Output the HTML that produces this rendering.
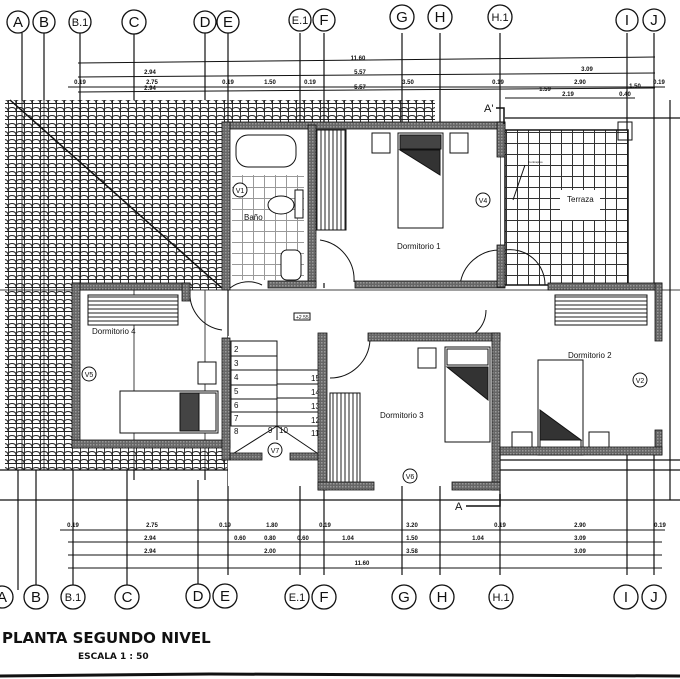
<!DOCTYPE html>
<html><head><meta charset="utf-8"><style>
html,body{margin:0;padding:0;background:#fff}
svg{display:block}
text{font-family:"Liberation Sans",sans-serif;fill:#111}
.c{font-family:"Liberation Serif",serif;font-size:15px;text-anchor:middle}
.d{font-family:"Liberation Serif",serif;font-size:6px;font-weight:bold;text-anchor:middle}
</style></head><body>
<svg width="680" height="679" viewBox="0 0 680 679" xmlns="http://www.w3.org/2000/svg">
<defs>
<pattern id="tile" width="8" height="8" patternUnits="userSpaceOnUse">
<rect width="8" height="8" fill="#fff"/>
<path d="M0.5 0V8M0 7Q0 3.5 4 3.5Q8 3.5 8 7M0 7.5H8" stroke="#222" stroke-width="0.9" fill="none"/>
</pattern>
<pattern id="wall" width="3" height="3" patternUnits="userSpaceOnUse">
<rect width="3" height="3" fill="#666"/><rect width="1.5" height="1.5" fill="#999"/>
</pattern>
<pattern id="grid" width="11" height="11" patternUnits="userSpaceOnUse">
<rect width="11" height="11" fill="#fff"/><path d="M0 0.5H11M0.5 0V11" stroke="#333" stroke-width="1"/>
</pattern>
<pattern id="vl" width="4" height="4" patternUnits="userSpaceOnUse">
<rect width="4" height="4" fill="#fff"/><path d="M1 0V4" stroke="#222" stroke-width="1"/>
</pattern>
<pattern id="hl" width="4" height="4" patternUnits="userSpaceOnUse">
<rect width="4" height="4" fill="#fff"/><path d="M0 1H4" stroke="#222" stroke-width="1"/>
</pattern>
</defs>

<!-- roof -->
<path d="M10 100H435V125H230V290H78V470H5V100Z" fill="url(#tile)"/>
<rect x="72" y="448" width="155" height="22" fill="url(#tile)"/>
<line x1="10" y1="100" x2="222" y2="288" stroke="#111" stroke-width="1.5"/>

<!-- grid lines -->
<g stroke="#111" stroke-width="1.2" fill="none">
<path d="M22 33V100M44 33V100M80 33V100M134 33V100M205 33V100M228 33V575M300 33V575M324 33V575M402 33V575M440 33V575M500 33V575M627 33V575M654 33V575"/>
<path d="M18 470V590M36 470V585M73 470V585M127 470V585M198 480V585M134 470V480M205 470V480"/>
<path d="M0 470H680M0 500H680M505 118H680M500 460H680"/>
<path d="M670 100V500"/>
</g>

<!-- dimension lines top -->
<g stroke="#111" stroke-width="1">
<line x1="78" y1="63" x2="655" y2="57"/>
<line x1="78" y1="77" x2="655" y2="73"/>
<line x1="78" y1="92" x2="655" y2="88"/>
<line x1="68" y1="87" x2="665" y2="87"/>
<line x1="505" y1="98" x2="635" y2="98"/>
</g>
<g class="d">
<text x="358" y="60">11.60</text><text x="150" y="74">2.94</text><text x="360" y="74">5.57</text><text x="587" y="71">3.09</text>
<text x="150" y="90">2.94</text><text x="360" y="89">5.57</text><text x="545" y="91">1.59</text><text x="635" y="88">1.50</text>
<text x="80" y="84">0.19</text><text x="152" y="84">2.75</text><text x="228" y="84">0.19</text><text x="270" y="84">1.50</text><text x="310" y="84">0.19</text><text x="408" y="84">3.50</text><text x="498" y="84">0.19</text><text x="580" y="84">2.90</text><text x="659" y="84">0.19</text>
<text x="568" y="96">2.19</text><text x="625" y="96">0.40</text>
</g>

<!-- top circles -->
<g fill="#fff" stroke="#111" stroke-width="1.3">
<circle cx="18" cy="22" r="11"/><circle cx="44" cy="22" r="11"/><circle cx="80" cy="22" r="11"/><circle cx="134" cy="22" r="12"/>
<circle cx="205" cy="22" r="11"/><circle cx="228" cy="22" r="11"/><circle cx="300" cy="20" r="11"/><circle cx="324" cy="20" r="11"/>
<circle cx="402" cy="17" r="12"/><circle cx="440" cy="17" r="12"/><circle cx="500" cy="17" r="12"/><circle cx="627" cy="20" r="11"/><circle cx="654" cy="20" r="11"/>
</g>
<g class="c">
<text x="18" y="27">A</text><text x="44" y="27">B</text><text x="80" y="26" font-size="11">B.1</text><text x="134" y="27">C</text>
<text x="205" y="27">D</text><text x="228" y="27">E</text><text x="300" y="24" font-size="11">E.1</text><text x="324" y="25">F</text>
<text x="402" y="22">G</text><text x="440" y="22">H</text><text x="500" y="21" font-size="11">H.1</text><text x="627" y="25">I</text><text x="654" y="25">J</text>
</g>

<!-- terraza -->
<rect x="505" y="130" width="123" height="155" fill="url(#grid)" stroke="#111" stroke-width="1.5"/>
<rect x="560" y="190" width="40" height="30" fill="#fff"/>
<text x="567" y="202" font-size="8">Terraza</text>
<path d="M525 165L513 200" stroke="#111" fill="none"/>
<text x="528" y="163" font-size="3">Contrapiso</text>
<rect x="618" y="122" width="14" height="18" fill="none" stroke="#111"/>

<!-- room interiors white -->
<rect x="230" y="128" width="270" height="155" fill="#fff"/>
<rect x="80" y="290" width="142" height="150" fill="#fff"/>
<rect x="230" y="288" width="430" height="48" fill="#fff"/>
<rect x="228" y="336" width="272" height="150" fill="#fff"/>
<rect x="500" y="290" width="156" height="158" fill="#fff"/>

<g stroke="#111" stroke-width="1" fill="none" opacity="0.8">
<path d="M134 290V470M205 290V470M22 100V470M44 100V470M80 100V290"/>
<path d="M0 290H680"/>
</g>

<!-- bath -->
<rect x="232" y="175" width="72" height="105" fill="url(#grid)" opacity="0.5"/>
<rect x="236" y="135" width="60" height="32" rx="12" fill="#fff" stroke="#111"/>
<ellipse cx="281" cy="205" rx="13" ry="9" fill="#fff" stroke="#111"/>
<rect x="281" y="250" width="20" height="30" rx="6" fill="#fff" stroke="#111"/>
<rect x="295" y="190" width="8" height="28" fill="#fff" stroke="#111"/>
<text x="244" y="220" font-size="8">Baño</text>

<!-- wardrobes -->
<rect x="316" y="130" width="30" height="100" fill="url(#vl)" stroke="#111"/>
<rect x="88" y="295" width="90" height="30" fill="url(#hl)" stroke="#111"/>
<rect x="555" y="295" width="92" height="30" fill="url(#hl)" stroke="#111"/>
<rect x="330" y="393" width="30" height="90" fill="url(#vl)" stroke="#111"/>

<!-- beds -->
<g stroke="#111" fill="#fff">
<rect x="398" y="133" width="45" height="95"/><rect x="400" y="135" width="41" height="14" fill="#444"/><path d="M400 150L440 150L440 175Z" fill="#333"/>
<rect x="372" y="133" width="18" height="20"/><rect x="450" y="133" width="18" height="20"/>
<rect x="445" y="347" width="45" height="95"/><rect x="447" y="349" width="41" height="16"/><path d="M447 367L488 367L488 400Z" fill="#333"/>
<rect x="418" y="348" width="18" height="20"/>
<rect x="538" y="360" width="45" height="95"/><path d="M540 410L581 440L540 440Z" fill="#333"/><rect x="540" y="440" width="41" height="14"/>
<rect x="512" y="432" width="20" height="20"/><rect x="589" y="432" width="20" height="20"/>
<rect x="120" y="391" width="98" height="42"/><rect x="180" y="393" width="20" height="38" fill="#444"/><rect x="199" y="393" width="17" height="38"/>
<rect x="198" y="362" width="18" height="22"/>
</g>

<!-- stairs -->
<g stroke="#111" fill="none" stroke-width="1">
<rect x="231" y="341" width="46" height="85"/>
<path d="M231 356H277M231 370H277M231 385H277M231 399H277M231 412H320M277 384H320M277 398H320M277 370H320M231 426H320"/>
<path d="M277 426L231 455M277 426L320 455M277 426V440"/>
</g>
<g font-size="8">
<text x="234" y="352">2</text><text x="234" y="366">3</text><text x="234" y="380">4</text><text x="234" y="394">5</text><text x="234" y="408">6</text><text x="234" y="421">7</text><text x="234" y="434">8</text>
<text x="311" y="381">15</text><text x="311" y="395">14</text><text x="311" y="409">13</text><text x="311" y="423">12</text><text x="311" y="436">11</text>
<text x="268" y="433">9</text><text x="279" y="433">10</text>
</g>

<!-- doors -->
<g stroke="#111" fill="none">
<path d="M190 290A37 37 0 0 0 222 330M230 288A30 30 0 0 1 262 285M320 240A40 40 0 0 1 354 282M460 285A40 40 0 0 1 500 250M505 250A35 35 0 0 1 545 285M330 378A40 40 0 0 0 370 340M456 340A30 30 0 0 0 486 310"/>
</g>

<!-- walls -->
<g fill="url(#wall)" stroke="#111" stroke-width="0.8">
<rect x="222" y="122" width="283" height="7"/>
<rect x="222" y="122" width="8" height="168"/>
<rect x="308" y="125" width="8" height="162"/>
<rect x="268" y="281" width="48" height="7"/>
<rect x="355" y="281" width="150" height="7"/>
<rect x="497" y="122" width="8" height="35"/>
<rect x="497" y="245" width="8" height="42"/>
<rect x="72" y="283" width="118" height="7"/>
<rect x="72" y="283" width="8" height="165"/>
<rect x="182" y="283" width="8" height="18"/>
<rect x="72" y="440" width="158" height="8"/>
<rect x="222" y="338" width="8" height="122"/>
<rect x="230" y="453" width="32" height="7"/>
<rect x="290" y="453" width="30" height="7"/>
<rect x="318" y="333" width="9" height="157"/>
<rect x="368" y="333" width="132" height="8"/>
<rect x="492" y="333" width="8" height="157"/>
<rect x="318" y="482" width="56" height="8"/>
<rect x="452" y="482" width="48" height="8"/>
<rect x="548" y="283" width="114" height="7"/>
<rect x="655" y="283" width="7" height="58"/>
<rect x="655" y="430" width="7" height="25"/>
<rect x="500" y="447" width="162" height="8"/>
</g>

<!-- window circles -->
<g fill="#fff" stroke="#111">
<circle cx="240" cy="190" r="7"/><circle cx="483" cy="200" r="7"/><circle cx="89" cy="374" r="7"/>
<circle cx="640" cy="380" r="7"/><circle cx="275" cy="450" r="7"/><circle cx="410" cy="476" r="7"/>
</g>
<g font-size="7" text-anchor="middle">
<text x="240" y="193">V1</text><text x="483" y="203">V4</text><text x="89" y="377">V5</text><text x="640" y="383">V2</text><text x="275" y="453">V7</text><text x="410" y="479">V6</text>
</g>

<text x="92" y="334" font-size="8">Dormitorio 4</text>
<text x="397" y="249" font-size="8">Dormitorio 1</text>
<text x="380" y="418" font-size="8">Dormitorio 3</text>
<text x="568" y="358" font-size="8">Dormitorio 2</text>
<rect x="294" y="313" width="16" height="7" fill="#fff" stroke="#111"/>
<text x="296" y="319" font-size="5">+2.55</text>
<text x="484" y="112" font-size="11">A'</text>
<path d="M496 108H504V124" stroke="#111" fill="none" stroke-width="1.5"/>
<text x="455" y="510" font-size="11">A</text>
<path d="M466 506H500V494" stroke="#111" fill="none" stroke-width="1.5"/>

<!-- bottom dimension lines -->
<g stroke="#111" stroke-width="1">
<line x1="60" y1="530" x2="665" y2="530"/>
<line x1="68" y1="542" x2="662" y2="542"/>
<line x1="68" y1="555" x2="662" y2="555"/>
<line x1="68" y1="568" x2="662" y2="568"/>
</g>
<g class="d">
<text x="73" y="527">0.19</text><text x="152" y="527">2.75</text><text x="225" y="527">0.19</text><text x="272" y="527">1.80</text><text x="325" y="527">0.19</text><text x="412" y="527">3.20</text><text x="500" y="527">0.19</text><text x="580" y="527">2.90</text><text x="660" y="527">0.19</text>
<text x="150" y="540">2.94</text><text x="240" y="540">0.60</text><text x="270" y="540">0.80</text><text x="303" y="540">0.60</text><text x="348" y="540">1.04</text><text x="412" y="540">1.50</text><text x="478" y="540">1.04</text><text x="580" y="540">3.09</text>
<text x="150" y="553">2.94</text><text x="270" y="553">2.00</text><text x="412" y="553">3.58</text><text x="580" y="553">3.09</text>
<text x="362" y="565">11.60</text>
</g>

<!-- bottom circles -->
<g fill="#fff" stroke="#111" stroke-width="1.3">
<circle cx="2" cy="597" r="11"/><circle cx="36" cy="597" r="12"/><circle cx="73" cy="597" r="12"/><circle cx="127" cy="597" r="12"/>
<circle cx="198" cy="596" r="12"/><circle cx="225" cy="596" r="12"/><circle cx="297" cy="597" r="12"/><circle cx="324" cy="597" r="12"/>
<circle cx="404" cy="597" r="12"/><circle cx="442" cy="597" r="12"/><circle cx="501" cy="597" r="12"/><circle cx="626" cy="597" r="12"/><circle cx="654" cy="597" r="12"/>
</g>
<g class="c">
<text x="2" y="602">A</text><text x="36" y="602">B</text><text x="73" y="601" font-size="11">B.1</text><text x="127" y="602">C</text>
<text x="198" y="601">D</text><text x="225" y="601">E</text><text x="297" y="601" font-size="11">E.1</text><text x="324" y="602">F</text>
<text x="404" y="602">G</text><text x="442" y="602">H</text><text x="501" y="601" font-size="11">H.1</text><text x="626" y="602">I</text><text x="654" y="602">J</text>
</g>

<text x="2" y="643" font-size="15" font-weight="bold" style="font-family:'DejaVu Sans',sans-serif">PLANTA  SEGUNDO NIVEL</text>
<text x="78" y="659" font-size="9" font-weight="bold" style="font-family:'DejaVu Sans',sans-serif">ESCALA  1 : 50</text>
<path d="M0 676L210 674L680 676" stroke="#111" stroke-width="3" fill="none"/>
</svg>
</body></html>
